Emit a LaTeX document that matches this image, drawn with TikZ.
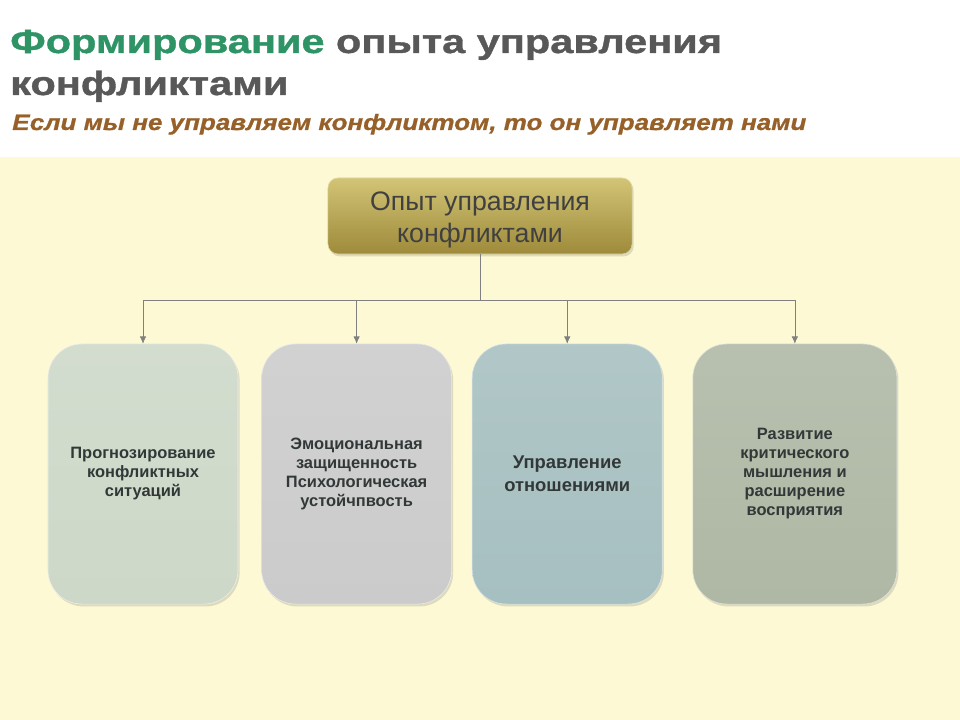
\documentclass[tikz,border=0pt]{standalone}
\usepackage{fontspec}
\setmainfont{Liberation Sans}
\newfontfamily\headfont[FakeStretch=1.24, FakeBold=1.2]{Liberation Sans}
\newfontfamily\mottofont[FakeStretch=1.17, FakeBold=0.8]{Liberation Sans}
\usetikzlibrary{arrows.meta,positioning,shadows}

\definecolor{titlegreen}{RGB}{46,148,102}
\definecolor{titlegrey}{RGB}{88,88,88}
\definecolor{subbrown}{RGB}{150,96,40}
\definecolor{paper}{RGB}{253,249,212}
\definecolor{linegrey}{RGB}{128,128,128}
\definecolor{cardtext}{RGB}{50,56,56}
\definecolor{goldtop}{RGB}{210,196,118}
\definecolor{goldbot}{RGB}{158,138,58}
\definecolor{cardA}{RGB}{205,216,200}
\definecolor{cardB}{RGB}{203,203,203}
\definecolor{cardC}{RGB}{166,191,192}
\definecolor{cardD}{RGB}{174,184,164}

\begin{document}
\begin{tikzpicture}[
        x=0.025cm, y=-0.025cm,
        topbox/.style={draw=goldtop!70!white, rounded corners=0.25cm, align=center, top color=goldtop, bottom color=goldbot, minimum width=7.6cm, minimum height=1.9cm, text height=42pt, text=black!75, font=\fontsize{19}{23}\selectfont, drop shadow={opacity=0.25, shadow xshift=0.04cm, shadow yshift=-0.06cm}},
        card/.style={draw=white!60!#1, rounded corners=0.85cm, align=center, top color=#1!88!white, bottom color=#1, minimum width=4.75cm, minimum height=6.5cm, text=cardtext, font=\bfseries\fontsize{11.7}{13.5}\selectfont, drop shadow={opacity=0.25, shadow xshift=0.04cm, shadow yshift=-0.06cm}},
        arrow/.style={-{Latex[length=0.18cm, width=0.16cm]}, draw=linegrey, thin}
    ]
        % Background
        \fill[white] (0,0) rectangle (960,720);
        \fill[paper] (0,157) rectangle (960,720);
        
        % Header
        \node[anchor=base west, inner sep=0pt, font=\headfont\bfseries\fontsize{23.8}{28}\selectfont, text=titlegrey] (title) at (10,53) {\textcolor{titlegreen}{Формирование} опыта управления};
        \node[anchor=base west, inner sep=0pt, font=\headfont\bfseries\fontsize{23.8}{28}\selectfont, text=titlegrey] (title2) at (10,95) {конфликтами};
        \node[anchor=base west, inner sep=0pt, font=\mottofont\bfseries\itshape\fontsize{15.8}{19}\selectfont, text=subbrown] (motto) at (12,130) {Если мы не управляем конфликтом, то он управляет нами};
        
        % Top box
        \node[topbox] (top) at (480,216) {Опыт управления\\конфликтами};
        
        % Cards
        \node[card=cardA] (b1) at (143,474) {Прогнозирование\\конфликтных\\ситуаций};
        \node[card=cardB, right=0.575cm of b1] (b2) {Эмоциональная\\защищенность\\Психологическая\\устойчпвость};
        \node[card=cardC, right=0.5cm of b2, font=\bfseries\fontsize{13.1}{16.3}\selectfont] (b3) {Управление\\отношениями};
        \node[card=cardD, right=0.75cm of b3, minimum width=5.1cm] (b4) {Развитие\\критического\\мышления и\\расширение\\восприятия};
        
        % Connections
        \draw[linegrey, thin] (top.south) -- ++(0,46) coordinate (hub);
        \foreach \b in {b1,b2,b3,b4}
            \draw[arrow] (hub) -| (\b.north);
        
    \end{tikzpicture}
\end{document}
